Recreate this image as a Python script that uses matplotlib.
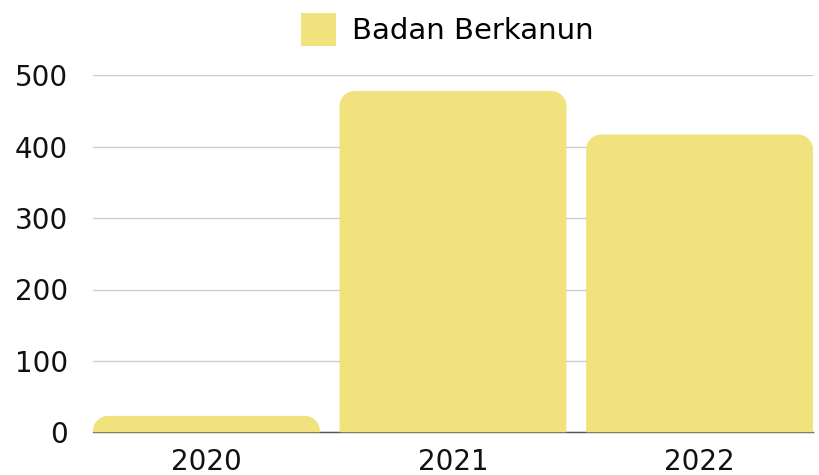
import matplotlib
matplotlib.use("Agg")
import matplotlib.pyplot as plt
from matplotlib.path import Path
from matplotlib.patches import PathPatch, Patch

categories = ["2020", "2021", "2022"]
values = [23, 478, 417]
series_name = "Badan Berkanun"
yticks = [0, 100, 200, 300, 400, 500]

BAR_COLOR = "#F1E27D"
plt.rcParams["font.family"] = ["DejaVu Sans"]

W, H = 819, 475
fig = plt.figure(figsize=(W / 100, H / 100), dpi=100)
ax = fig.add_axes([93 / W, (H - 432.3) / H, 720 / W, (432.3 - 75.3) / H])

x = list(range(len(categories)))
width = 0.92
ax.set_xlim(-0.46, len(categories) - 1 + 0.46)
ax.set_ylim(0, 500)
ax.set_yticks(yticks)
ax.set_xticks(x)
ax.set_xticklabels(categories)
ax.grid(axis="y", color="#cccccc", linewidth=1)
ax.set_axisbelow(True)
for s in ["top", "right", "left"]:
    ax.spines[s].set_visible(False)
ax.spines["bottom"].set_color("#555555")
ax.spines["bottom"].set_linewidth(1)
ax.tick_params(axis="both", length=0, labelsize=20, colors="#111111")
ax.tick_params(axis="y", pad=18)
ax.tick_params(axis="x", pad=11)

fig.canvas.draw()
r = 15.0
for xi, v in zip(x, values):
    (x0, y0) = ax.transData.transform((xi - width / 2, 0))
    (x1, y1) = ax.transData.transform((xi + width / 2, v))
    rr = min(r, (y1 - y0), (x1 - x0) / 2)
    k = 0.5523
    verts = [
        (x0, y0), (x0, y1 - rr),
        (x0, y1 - rr + k * rr), (x0 + rr - k * rr, y1), (x0 + rr, y1),
        (x1 - rr, y1),
        (x1 - rr + k * rr, y1), (x1, y1 - rr + k * rr), (x1, y1 - rr),
        (x1, y0), (x0, y0),
    ]
    codes = [Path.MOVETO, Path.LINETO,
             Path.CURVE4, Path.CURVE4, Path.CURVE4,
             Path.LINETO,
             Path.CURVE4, Path.CURVE4, Path.CURVE4,
             Path.LINETO, Path.CLOSEPOLY]
    patch = PathPatch(Path(verts, codes), facecolor=BAR_COLOR, edgecolor="none",
                      transform=None, zorder=3)
    fig.add_artist(patch)

leg = fig.legend(handles=[Patch(facecolor=BAR_COLOR, edgecolor="none", label=series_name)],
                 loc="upper center", bbox_to_anchor=(447.5 / W, 0.998), frameon=False,
                 fontsize=21, handlelength=1.2, handleheight=1.4, handletextpad=0.55,
                 borderaxespad=0.0)

fig.savefig("out.png", dpi=100)
